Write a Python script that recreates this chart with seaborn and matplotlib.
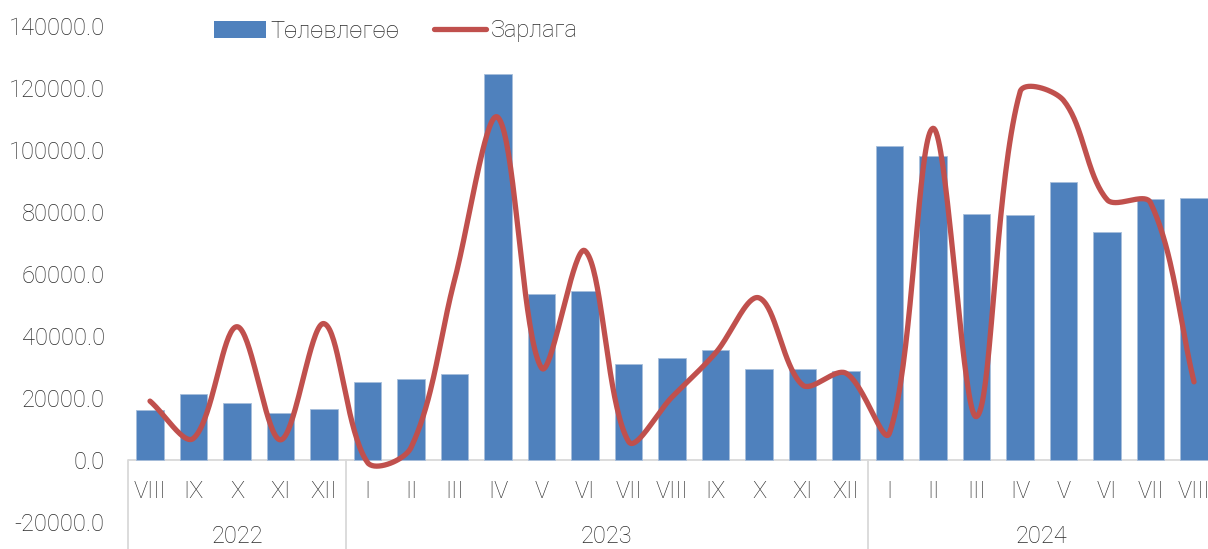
import numpy as np
import pandas as pd
import matplotlib
matplotlib.use("Agg")
import matplotlib.pyplot as plt
import seaborn as sns
from matplotlib.patches import Patch
from matplotlib.lines import Line2D

# monthly data, VIII 2022 .. VIII 2024
months = ["VIII", "IX", "X", "XI", "XII",
          "I", "II", "III", "IV", "V", "VI", "VII", "VIII", "IX", "X", "XI", "XII",
          "I", "II", "III", "IV", "V", "VI", "VII", "VIII"]
years = ["2022", "2023", "2024"]
year_spans = [(0, 5), (5, 17), (17, 25)]
plan = [16100, 21300, 18400, 15200, 16500,
        25200, 26100, 27700, 124500, 53500, 54500, 31000, 32900, 35500, 29400, 29400, 28700,
        101300, 98100, 79400, 79000, 89700, 73500, 84200, 84500]
spend = [19000, 7000, 43000, 6500, 44000,
         -800, 4000, 58000, 110500, 29700, 67500, 6000, 20300, 34500, 52300, 24200, 28000,
         8700, 107000, 14000, 118700, 116000, 84000, 83000, 25200]

BLUE = "#4F81BD"
RED = "#C0504D"
TXT = "#2b2b2b"

STEP = 43.5          # px per category
YPX = 3.1 / 1000     # px per unit


def smooth_curve(x, y, n=40):
    # Excel-like smoothed line: bezier, control points scaled by segment length (screen space)
    pts = np.column_stack([np.asarray(x, float) * STEP, np.asarray(y, float) * YPX])
    out = []
    for i in range(len(pts) - 1):
        p0 = pts[i - 1] if i > 0 else pts[i]
        p1, p2 = pts[i], pts[i + 1]
        p3 = pts[i + 2] if i + 2 < len(pts) else pts[i + 1]
        d01 = np.linalg.norm(p1 - p0)
        d12 = np.linalg.norm(p2 - p1)
        d23 = np.linalg.norm(p3 - p2)
        c1 = p1 + (p2 - p0) * (d12 / (d01 + d12)) / 3.0 if d01 > 0 else p1 + (p2 - p1) / 3.0
        c2 = p2 - (p3 - p1) * (d12 / (d12 + d23)) / 3.0 if d23 > 0 else p2 - (p2 - p1) / 3.0
        t = np.linspace(0, 1, n)[:, None]
        seg = ((1 - t) ** 3) * p1 + 3 * ((1 - t) ** 2) * t * c1 + 3 * (1 - t) * t ** 2 * c2 + t ** 3 * p2
        out.append(seg if i == 0 else seg[1:])
    out = np.vstack(out)
    return out[:, 0] / STEP, out[:, 1] / YPX


sns.set_style("white")
plt.rcParams["font.family"] = ["Roboto", "DejaVu Sans"]
plt.rcParams["font.weight"] = "light"

W, H = 1208, 549
fig = plt.figure(figsize=(W / 100, H / 100), dpi=100)
left_px = 128.25
ax = fig.add_axes([left_px / W, (H - 522) / H, 25 * STEP / W, (522 - 26) / H])

df = pd.DataFrame({"idx": range(len(plan)), "plan": plan})
sns.barplot(data=df, x="idx", y="plan", color=BLUE, width=0.64, saturation=1,
            edgecolor="#a7bedb", linewidth=0.6, ax=ax)

sx, sy = smooth_curve(np.arange(len(spend)), spend)
sns.lineplot(x=sx, y=sy, sort=False, color=RED, linewidth=3.8, ax=ax,
             solid_capstyle="round", estimator=None)

ax.set_xlim(-0.5, 24.5)
ax.set_ylim(-20000, 140000)
ax.set_yticks(np.arange(-20000, 140001, 20000))
ax.set_yticklabels([f"{v:.1f}" for v in np.arange(-20000, 140001, 20000)])
ax.tick_params(axis="y", labelsize=17, colors=TXT, length=0, pad=17)
ax.set_xticks([])
ax.set_xlabel("")
ax.set_ylabel("")
for s in ax.spines.values():
    s.set_visible(False)

ax.axhline(0, color="#d9d9d9", linewidth=1.3, zorder=0.5)

for i, m in enumerate(months):
    ax.text(i, -10300, m, ha="center", va="center", fontsize=17, color=TXT, clip_on=False)

for (a, b), yr in zip(year_spans, years):
    ax.text((a + b - 1) / 2, -24800, yr, ha="center", va="center", fontsize=17,
            color=TXT, clip_on=False)
    ax.plot([a - 0.5, a - 0.5], [0, -32000], color="#d9d9d9", linewidth=1.3, clip_on=False)

handles = [Patch(facecolor=BLUE, edgecolor="none"),
           Line2D([0], [0], color=RED, linewidth=3.8, solid_capstyle="round")]
fig.legend(handles, ["Төлөвлөгөө", "Зарлага"], loc="center left",
           bbox_to_anchor=(214 / W, 1 - 31 / H), ncol=2, frameon=False,
           fontsize=17, handlelength=2.2, handleheight=0.7, handletextpad=0.2,
           columnspacing=1.45, borderpad=0, borderaxespad=0, labelcolor=TXT)

fig.savefig("out.png", dpi=100)
